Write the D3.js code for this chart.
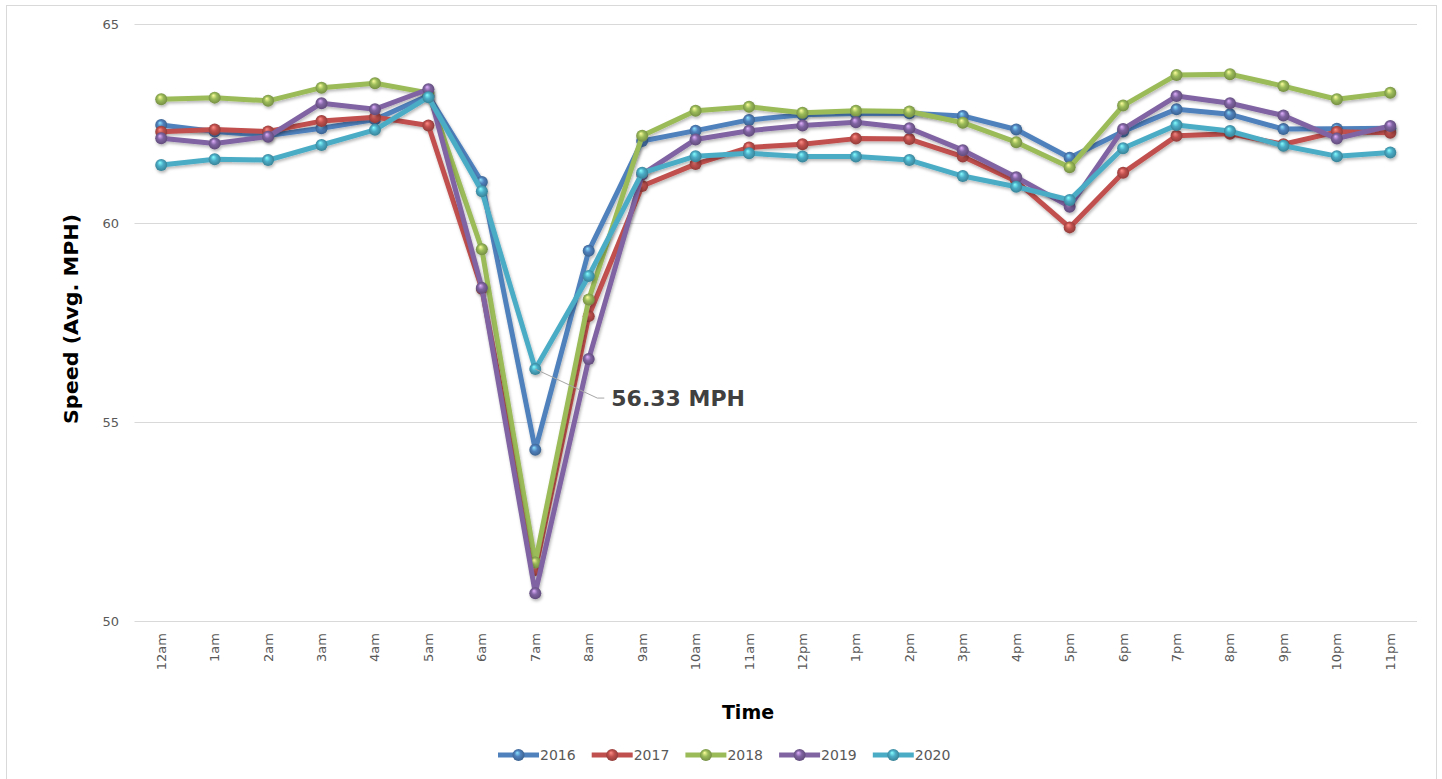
<!DOCTYPE html>
<html>
<head>
<meta charset="utf-8">
<script src="https://cdn.jsdelivr.net/npm/d3@7"></script>
<style>
  body { margin: 0; background: #fff; }
  svg { display: block; font-family: "DejaVu Sans", Verdana, sans-serif; }
</style>
</head>
<body>
<script>
// Data
const hours = ["12am","1am","2am","3am","4am","5am","6am","7am","8am","9am","10am","11am",
               "12pm","1pm","2pm","3pm","4pm","5pm","6pm","7pm","8pm","9pm","10pm","11pm"];
const years = ["2016", "2017", "2018", "2019", "2020"];
const speed2016 = [62.46,62.30,62.20,62.38,62.60,63.20,61.03,54.30,59.30,62.06,62.32,62.59,62.72,62.75,62.76,62.69,62.35,61.64,62.30,62.86,62.73,62.36,62.37,62.38];
const speed2017 = [62.29,62.35,62.30,62.56,62.66,62.45,58.35,51.28,57.66,60.93,61.48,61.90,61.98,62.12,62.11,61.67,61.05,59.89,61.26,62.19,62.24,61.98,62.29,62.27];
const speed2018 = [63.11,63.15,63.07,63.40,63.51,63.27,59.34,51.47,58.08,62.19,62.82,62.92,62.77,62.82,62.80,62.52,62.03,61.40,62.95,63.72,63.74,63.44,63.11,63.27];
const speed2019 = [62.13,62.00,62.17,63.01,62.86,63.36,58.37,50.70,56.58,61.22,62.10,62.32,62.45,62.53,62.38,61.83,61.15,60.41,62.36,63.19,63.01,62.70,62.12,62.44];
const speed2020 = [61.46,61.60,61.58,61.96,62.34,63.16,60.80,56.33,58.67,61.26,61.68,61.75,61.67,61.67,61.58,61.18,60.91,60.58,61.88,62.46,62.31,61.94,61.68,61.77];
const yTicks = [50, 55, 60, 65];
const colors = ["#4f81bd", "#c0504d", "#9bbb59", "#8064a2", "#4bacc6"];
const callout = { hour: "7am", value: 56.33, label: "56.33 MPH" };

const seriesValues = [speed2016, speed2017, speed2018, speed2019, speed2020];
const series = years.map((y, i) => ({
  year: y, color: colors[i],
  points: hours.map((h, j) => ({ hour: h, value: seriesValues[i][j] }))
}));

const W = 1442, H = 779;
const svg = d3.select("body").append("svg").attr("width", W).attr("height", H);

// chart border
svg.append("rect").attr("x", 6.5).attr("y", 5.5).attr("width", 1430).attr("height", 790)
  .attr("fill", "none").attr("stroke", "#d9d9d9");

const x = d3.scalePoint().domain(hours).range([134.5, 1417]).padding(0.5);
const y = d3.scaleLinear().domain([50, 65]).range([621, 24]);

// defs: ball gradients + shadow
const defs = svg.append("defs");
series.forEach((s, i) => {
  const c = d3.color(s.color);
  const g = defs.append("radialGradient").attr("id", "ball" + i)
    .attr("cx", "50%").attr("cy", "50%").attr("r", "55%")
    .attr("fx", "38%").attr("fy", "30%");
  g.append("stop").attr("offset", "0%").attr("stop-color", c.brighter(1.6));
  g.append("stop").attr("offset", "45%").attr("stop-color", c);
  g.append("stop").attr("offset", "100%").attr("stop-color", c.darker(0.9));
});
const sh = defs.append("filter").attr("id", "shadow")
  .attr("x", "-5%").attr("y", "-5%").attr("width", "110%").attr("height", "110%");
sh.append("feDropShadow").attr("dx", 1).attr("dy", 2).attr("stdDeviation", 1.5)
  .attr("flood-color", "#000").attr("flood-opacity", 0.28);

// gridlines
svg.append("g").selectAll("line").data(yTicks).join("line")
  .attr("x1", 134.5).attr("x2", 1417)
  .attr("y1", d => Math.round(y(d)) + 0.5).attr("y2", d => Math.round(y(d)) + 0.5)
  .attr("stroke", "#d9d9d9");

// y axis labels
svg.append("g").selectAll("text").data(yTicks).join("text")
  .attr("x", 119).attr("y", d => y(d)).attr("dy", "0.35em")
  .attr("text-anchor", "end").attr("font-size", 13).attr("fill", "#595959")
  .text(d => d);

// x axis labels (rotated)
svg.append("g").selectAll("text").data(hours).join("text")
  .attr("transform", d => `translate(${x(d) + 4.5},633) rotate(-90)`)
  .attr("text-anchor", "end").attr("font-size", 13).attr("fill", "#595959")
  .text(d => d);

// axis titles
svg.append("text").attr("transform", "translate(78,319) rotate(-90)")
  .attr("text-anchor", "middle").attr("font-size", 19).attr("font-weight", "bold")
  .attr("textLength", 210).attr("lengthAdjust", "spacingAndGlyphs")
  .attr("fill", "#000").text("Speed (Avg. MPH)");
svg.append("text").attr("x", 748).attr("y", 719)
  .attr("text-anchor", "middle").attr("font-size", 19).attr("font-weight", "bold")
  .attr("fill", "#000").text("Time");

// lines + markers
const line = d3.line().x(d => x(d.hour)).y(d => y(d.value));
series.forEach((s, i) => {
  const g = svg.append("g").attr("filter", "url(#shadow)");
  g.append("path").attr("d", line(s.points))
    .attr("fill", "none").attr("stroke", s.color).attr("stroke-width", 5)
    .attr("stroke-linejoin", "round");
  g.selectAll("circle").data(s.points).join("circle")
    .attr("cx", d => x(d.hour)).attr("cy", d => y(d.value)).attr("r", 6)
    .attr("fill", `url(#ball${i})`);
});

// callout
const cx0 = x(callout.hour), cy0 = y(callout.value);
svg.append("path")
  .attr("d", `M${cx0},${cy0} L${cx0 + 62},${cy0 + 29} L${cx0 + 69},${cy0 + 29}`)
  .attr("fill", "none").attr("stroke", "#a6a6a6").attr("stroke-width", 1);
svg.append("text").attr("x", cx0 + 76).attr("y", cy0 + 29).attr("dy", "0.35em")
  .attr("font-size", 22).attr("font-weight", "bold").attr("fill", "#404040")
  .text(callout.label);

// legend
const legend = svg.append("g").attr("transform", "translate(498,755)");
series.forEach((s, i) => {
  const g = legend.append("g").attr("transform", `translate(${i * 93.7},0)`);
  g.append("line").attr("x1", 0).attr("x2", 41).attr("y1", 0).attr("y2", 0)
    .attr("stroke", s.color).attr("stroke-width", 5);
  g.append("circle").attr("cx", 20.5).attr("cy", 0).attr("r", 6)
    .attr("fill", `url(#ball${i})`);
  g.append("text").attr("x", 42).attr("y", 0).attr("dy", "0.35em")
    .attr("font-size", 14).attr("fill", "#595959").text(s.year);
});
</script>
</body>
</html>
